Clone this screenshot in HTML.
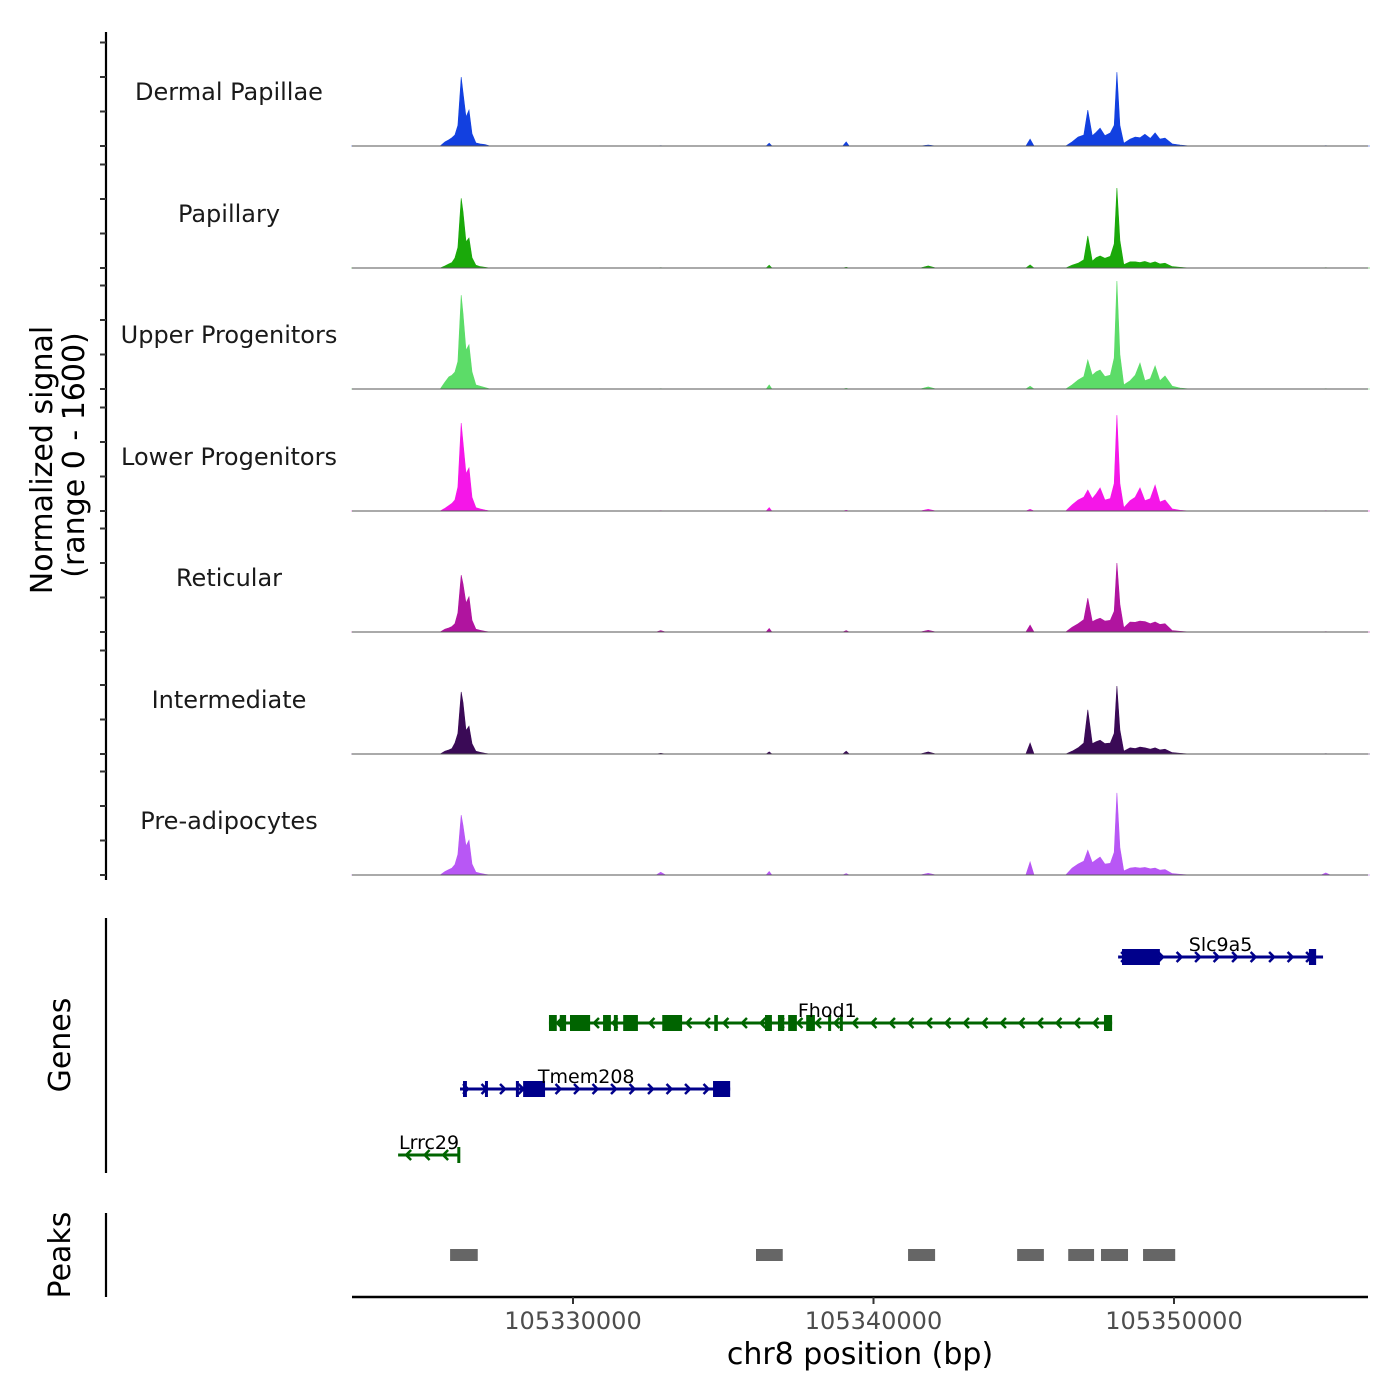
<!DOCTYPE html>
<html><head><meta charset="utf-8">
<style>
html,body{margin:0;padding:0;background:#fff;}
svg{display:block;font-family:"DejaVu Sans","Liberation Sans",sans-serif;}
</style></head>
<body>
<svg id="chart" width="1400" height="1400" viewBox="0 0 1400 1400" xmlns="http://www.w3.org/2000/svg">
</svg>
<script>
// ---- data (positions in kb offset from 105320000) ----
const trackNames = ["Dermal Papillae","Papillary","Upper Progenitors","Lower Progenitors","Reticular","Intermediate","Pre-adipocytes"];
const trackColors = ["#1240e0","#1aa90a","#5cdc68","#f516e8","#b0149f","#3a0a56","#b857f5"];
const signalPos = [2.62,5.58,5.74,5.87,5.97,6.07,6.17,6.28,6.34,6.44,6.54,6.64,6.77,6.91,7.07,7.24,
  12.77,12.92,13.08,16.43,16.53,16.62,18.98,19.09,19.19,21.55,21.82,22.08,25.07,25.21,25.34,
  26.40,26.61,26.81,27.00,27.13,27.28,27.41,27.54,27.70,27.88,28.01,28.10,28.20,28.33,28.54,28.71,28.87,29.03,29.21,29.37,29.53,29.70,29.94,30.20,30.54,
  34.90,35.05,35.20,36.52];
const sigDP  = [0,0,60,90,120,160,300,1000,780,420,520,180,45,30,20,0, 0,5,0, 0,40,0, 0,60,0, 0,15,0, 0,100,0, 0,60,130,160,520,150,200,260,150,190,300,1070,300,40,100,130,120,170,110,190,100,115,30,15,0, 0,5,0,0];
const sigPap = [0,0,30,60,80,145,300,1010,820,380,435,150,40,20,10,0, 0,5,0, 0,40,0, 0,10,0, 0,30,0, 0,45,0, 0,40,70,120,465,100,150,175,140,170,350,1160,400,50,90,90,80,95,70,90,60,70,20,10,0, 0,5,0,0];
const sigUP  = [0,0,100,175,200,245,400,1360,1100,560,640,250,60,40,20,0, 0,5,0, 0,60,0, 0,10,0, 0,30,0, 0,40,0, 0,60,130,180,420,200,250,275,180,200,450,1565,500,60,120,200,375,120,150,335,120,190,40,15,0, 0,5,0,0];
const sigLP  = [0,0,40,80,110,160,350,1275,1000,540,625,200,50,30,15,0, 0,5,0, 0,50,0, 0,10,0, 0,25,0, 0,25,0, 0,90,160,200,305,180,250,335,160,180,400,1390,400,50,150,200,335,150,180,375,130,160,30,10,0, 0,5,0,0];
const sigRet = [0,0,40,60,80,120,280,825,700,420,510,170,40,25,10,0, 0,20,0, 0,50,0, 0,20,0, 0,25,0, 0,100,0, 0,70,120,180,490,150,180,200,160,170,300,1000,400,60,145,140,160,150,120,145,110,120,20,10,0, 0,5,0,0];
const sigInt = [0,0,40,60,80,160,300,900,750,340,405,150,40,25,10,0, 0,10,0, 0,30,0, 0,40,0, 0,30,0, 0,160,0, 0,40,90,160,640,150,180,200,150,160,300,985,350,40,90,80,100,90,70,90,60,70,20,10,0, 0,5,0,0];
const sigPre = [0,0,50,80,100,150,300,870,720,420,505,160,40,25,10,0, 0,40,0, 0,50,0, 0,20,0, 0,25,0, 0,190,0, 0,100,160,200,360,180,220,260,160,170,330,1190,400,60,100,110,100,110,90,100,70,80,20,10,0, 0,30,0,0];
const trackValues = [sigDP,sigPap,sigUP,sigLP,sigRet,sigInt,sigPre];
const xTicks = [105330000,105340000,105350000];
const yTickVals = [0,500,1000,1500];
const genes = [
 {name:"Slc9a5",strand:1,start:28.14,end:34.96,row:0,exons:[[28.27,29.53],[34.49,34.73]],labelAt:31.55,color:"#00008b"},
 {name:"Fhod1",strand:-1,start:9.20,end:27.94,row:1,exons:[[9.20,9.46],[9.56,9.77],[9.90,10.57],[11.00,11.26],[11.36,11.49],[11.67,12.16],[12.97,13.63],[14.70,14.82],[16.39,16.62],[16.82,17.03],[17.16,17.45],[17.76,18.05],[18.49,18.56],[18.88,18.95],[27.67,27.94]],labelAt:18.46,color:"#006400"},
 {name:"Tmem208",strand:1,start:6.24,end:15.23,row:2,exons:[[6.34,6.47],[7.07,7.14],[8.10,8.20],[8.34,9.07],[14.66,15.23]],labelAt:10.44,color:"#00008b"},
 {name:"Lrrc29",strand:-1,start:4.18,end:6.24,row:3,exons:[[6.15,6.24]],labelAt:5.21,color:"#006400"}
];
const peakStarts = [5.91,16.09,21.15,24.78,26.48,27.57,28.97];
const peakEnds   = [6.83,16.98,22.05,25.67,27.34,28.47,30.04];

// ---- scales ----
const X0=352, X1=1368;
function xs(kb){return 573 + (kb-10)*30.05;}
function xbp(bp){return xs((bp-105320000)/1000);}
const baselines=[146,268,389,511,632,754,875];
const pxPerUnit = 103.5/1500;
function ys(v,i){return baselines[i]-v*pxPerUnit;}

const svg=document.getElementById('chart');
const NS="http://www.w3.org/2000/svg";
function mk(tag,attrs,parent){const e=document.createElementNS(NS,tag);for(const k in attrs)e.setAttribute(k,attrs[k]);(parent||svg).appendChild(e);return e;}

// y axis for signal
let g=mk('g',{});


mk('line',{x1:106,y1:32,x2:106,y2:880,stroke:'#000','stroke-width':2.2},g);
baselines.forEach((b,i)=>{yTickVals.forEach(v=>{const y=ys(v,i);mk('line',{x1:100,y1:y,x2:106,y2:y,stroke:'#333','stroke-width':2},g);});});
let t=mk('text',{x:0,y:0,'font-size':30,'text-anchor':'middle',transform:'translate(52,460) rotate(-90)',fill:'#000'});
t.textContent='Normalized signal';


t=mk('text',{x:0,y:0,'font-size':30,'text-anchor':'middle',transform:'translate(84,455) rotate(-90)',fill:'#000'});
t.textContent='(range 0 - 1600)';



// tracks
trackNames.forEach((name,i)=>{
  const tg=mk('g',{});
  
  
  let d='M'+X0+','+baselines[i];
  signalPos.forEach((p,j)=>{d+=' L'+xs(p).toFixed(1)+','+ys(trackValues[i][j],i).toFixed(1);});
  d+=' L'+X1+','+baselines[i]+' Z';
  const a=mk('path',{d:d,fill:trackColors[i],stroke:trackColors[i],'stroke-width':0.6},tg);
  
  
  mk('line',{x1:X0,y1:baselines[i],x2:X1,y2:baselines[i],stroke:'#555','stroke-width':1},tg);
  const lb=mk('text',{x:229,y:baselines[i]-46,'font-size':24,'text-anchor':'middle',fill:'#1a1a1a'},tg);
  lb.textContent=name;
  
  
});

// genes panel
const gg=mk('g',{});


mk('line',{x1:106,y1:918,x2:106,y2:1173,stroke:'#000','stroke-width':2.2},gg);
t=mk('text',{x:0,y:0,'font-size':30,'text-anchor':'middle',transform:'translate(70,1045) rotate(-90)'},gg);
t.textContent='Genes';


const rowY=[957,1023,1089,1155];
genes.forEach(gn=>{
  const y=rowY[gn.row];
  const ge=mk('g',{},gg);
  
  
  const xa=xs(gn.start), xb=xs(gn.end);
  mk('line',{x1:xa,y1:y,x2:xb,y2:y,stroke:gn.color,'stroke-width':3},ge);
  for(let x=xa+8;x<xb-2;x+=18.5){
    const dx=gn.strand*5;
    mk('polyline',{points:(x-dx)+','+(y-5)+' '+x+','+y+' '+(x-dx)+','+(y+5),fill:'none',stroke:gn.color,'stroke-width':2.5},ge);
  }
  gn.exons.forEach(e=>{mk('rect',{x:xs(e[0]),y:y-8,width:Math.max(3,xs(e[1])-xs(e[0])),height:16,fill:gn.color},ge);});
  const l=mk('text',{x:xs(gn.labelAt),y:y-6,'font-size':19,'text-anchor':'middle',fill:'#000'},ge);
  l.textContent=gn.name;
  
  
});

// peaks panel
const pg=mk('g',{});


mk('line',{x1:106,y1:1213,x2:106,y2:1297,stroke:'#000','stroke-width':2.2},pg);
t=mk('text',{x:0,y:0,'font-size':30,'text-anchor':'middle',transform:'translate(70,1255) rotate(-90)'},pg);
t.textContent='Peaks';


peakStarts.forEach((s,i)=>{
  const r=mk('rect',{x:xs(s),y:1249,width:xs(peakEnds[i])-xs(s),height:12,fill:'#666'},pg);
  
  
});

// x axis
const xg=mk('g',{});


mk('line',{x1:X0,y1:1297,x2:X1,y2:1297,stroke:'#000','stroke-width':2.4},xg);
xTicks.forEach(v=>{
  const x=xbp(v);
  mk('line',{x1:x,y1:1297,x2:x,y2:1304,stroke:'#333','stroke-width':2},xg);
  const l=mk('text',{x:x,y:1329,'font-size':24,'text-anchor':'middle',fill:'#4d4d4d'},xg);
  l.textContent=String(v);
  
  
});
t=mk('text',{x:860,y:1364,'font-size':30,'text-anchor':'middle',fill:'#000'},xg);
t.textContent='chr8 position (bp)';


</script>
</body></html>
